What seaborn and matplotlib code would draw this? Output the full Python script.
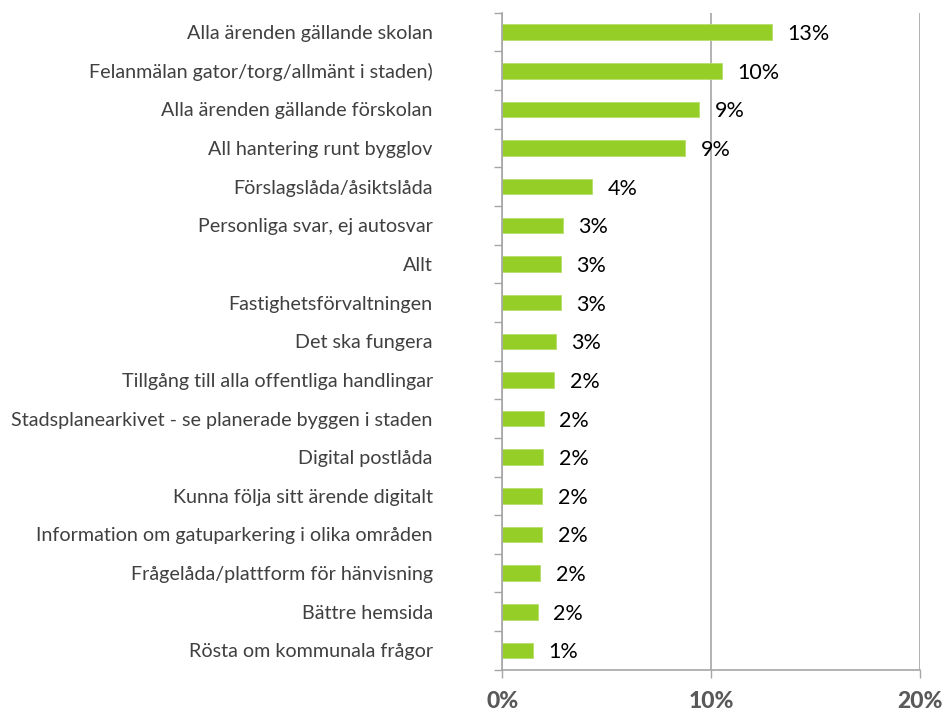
import seaborn as sns
import matplotlib.pyplot as plt
import pandas as pd
from matplotlib.ticker import FixedLocator

categories = [
    'Alla ärenden gällande skolan',
    'Felanmälan gator/torg/allmänt i staden)',
    'Alla ärenden gällande förskolan',
    'All hantering runt bygglov',
    'Förslagslåda/åsiktslåda',
    'Personliga svar, ej autosvar',
    'Allt',
    'Fastighetsförvaltningen',
    'Det ska fungera',
    'Tillgång till alla offentliga handlingar',
    'Stadsplanearkivet - se planerade byggen i staden',
    'Digital postlåda',
    'Kunna följa sitt ärende digitalt',
    'Information om gatuparkering i olika områden',
    'Frågelåda/plattform för hänvisning',
    'Bättre hemsida',
    'Rösta om kommunala frågor',
]
shares = [12.9, 10.5, 9.4, 8.75, 4.3, 2.9, 2.8, 2.8, 2.55, 2.47, 1.98,
          1.95, 1.91, 1.91, 1.83, 1.69, 1.47]
labels = ['13%', '10%', '9%', '9%', '4%', '3%', '3%', '3%', '3%', '2%', '2%',
          '2%', '2%', '2%', '2%', '2%', '1%']
xticks = [0, 10, 20]
xticklabels = ['0%', '10%', '20%']

df = pd.DataFrame({'kategori': categories, 'andel': shares})

sns.set_theme(style='white')
plt.rcParams['font.family'] = ['Lato', 'DejaVu Sans']

fig = plt.figure(figsize=(9.44, 7.14), dpi=100)
ax = fig.add_axes([0.532, 0.062, 0.443, 0.92])

sns.barplot(data=df, x='andel', y='kategori', orient='h', color='#96CE28',
            width=0.4, saturation=1, edgecolor='#B5DE6A', linewidth=0.6, ax=ax)

# data labels to the right of each bar
for i, (v, lab) in enumerate(zip(shares, labels)):
    ax.text(v + 0.75, i + 0.05, lab, va='center', ha='left',
            fontsize=15.5, color='black')

ax.set_xlim(0, 20)
ax.set_ylim(16.5, -0.5)
ax.set_xticks(xticks)
ax.set_xticklabels(xticklabels, fontsize=16.5, fontweight='black', color='#595959')
ax.tick_params(axis='x', length=6, width=1, color='#A6A6A6', direction='out',
               pad=9, bottom=True)
ax.tick_params(axis='y', which='major', length=0, pad=50, labelsize=14.2,
               labelcolor='#404040')
# tick marks sit between the categories
ax.yaxis.set_minor_locator(FixedLocator([i - 0.5 for i in range(len(categories) + 1)]))
ax.tick_params(axis='y', which='minor', length=6, width=1, color='#A6A6A6',
               left=True)
for lab in ax.get_yticklabels():
    lab.set_horizontalalignment('right')

ax.grid(axis='x', color='#A6A6A6', linewidth=1.2)
ax.grid(axis='y', visible=False)
ax.set_axisbelow(True)
ax.set_xlabel('')
ax.set_ylabel('')
for side in ['top', 'right']:
    ax.spines[side].set_visible(False)
for side in ['left', 'bottom']:
    ax.spines[side].set_color('#A6A6A6')
    ax.spines[side].set_linewidth(1.2)

plt.savefig('out.png', dpi=100)
